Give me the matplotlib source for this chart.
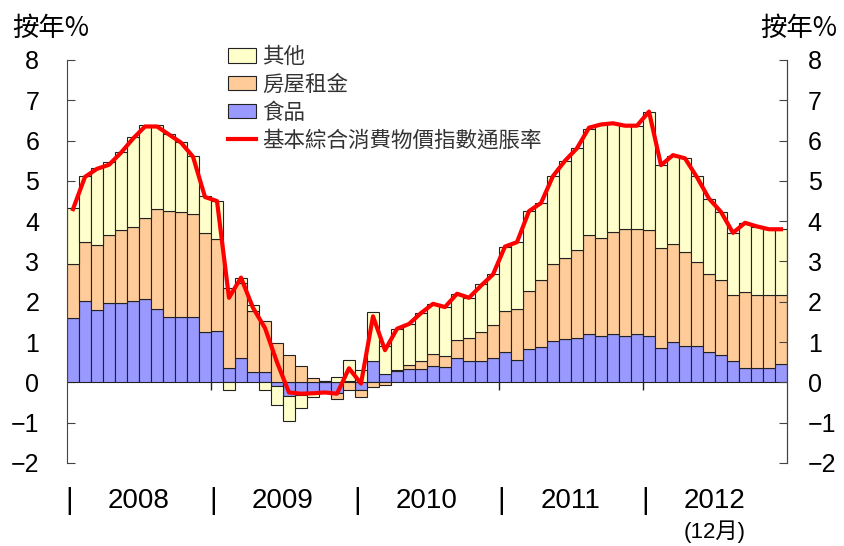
import numpy as np
import matplotlib
matplotlib.use('Agg')
import matplotlib.pyplot as plt
from matplotlib.patches import Patch
from matplotlib.lines import Line2D

plt.rcParams['font.family'] = ['Liberation Sans', 'Noto Sans CJK TC', 'DejaVu Sans']

# monthly, Jan 2008 - Dec 2012 (contributions, % pts)
food = [1.59, 2.01, 1.79, 1.97, 1.97, 2.01, 2.08, 1.82, 1.63, 1.63, 1.63, 1.26,
        1.27, 0.36, 0.60, 0.25, 0.25, -0.08, -0.33, -0.31, -0.27, -0.25, -0.27, 0.03,
        -0.18, 0.54, 0.22, 0.29, 0.34, 0.33, 0.40, 0.38, 0.60, 0.54, 0.54, 0.60,
        0.75, 0.56, 0.83, 0.88, 1.03, 1.07, 1.09, 1.19, 1.16, 1.19, 1.16, 1.19,
        1.15, 0.85, 1.00, 0.91, 0.91, 0.75, 0.69, 0.53, 0.35, 0.35, 0.35, 0.45]
rent = [1.35, 1.47, 1.61, 1.68, 1.80, 1.85, 2.00, 2.48, 2.63, 2.60, 2.56, 2.45,
        2.28, 1.99, 1.87, 1.52, 1.27, 0.98, 0.69, 0.41, 0.11, 0.04, -0.14, -0.18,
        -0.17, -0.12, -0.07, 0.03, 0.08, 0.21, 0.30, 0.28, 0.46, 0.55, 0.71, 0.83,
        1.01, 1.25, 1.45, 1.65, 1.91, 2.01, 2.19, 2.46, 2.43, 2.55, 2.64, 2.61,
        2.62, 2.48, 2.43, 2.33, 2.08, 1.93, 1.84, 1.63, 1.89, 1.81, 1.81, 1.73]
others = [1.39, 1.63, 1.92, 1.81, 1.95, 2.23, 2.30, 2.08, 1.90, 1.74, 1.42, 0.92,
          0.96, -0.18, 0.13, 0.14, -0.18, -0.49, -0.64, -0.33, -0.10, 0.0, 0.13, 0.52,
          0.30, 1.21, 0.68, 1.01, 1.03, 1.18, 1.25, 1.21, 1.14, 1.01, 1.18, 1.26,
          1.61, 1.67, 1.97, 1.92, 2.18, 2.42, 2.53, 2.65, 2.81, 2.69, 2.57, 2.57,
          2.94, 2.06, 2.19, 2.32, 2.12, 1.88, 1.70, 1.55, 1.72, 1.70, 1.64, 1.62]
underlying = [4.3, 5.1, 5.3, 5.4, 5.7, 6.05, 6.35, 6.35, 6.15, 5.95, 5.6, 4.6,
              4.5, 2.1, 2.6, 1.85, 1.35, 0.5, -0.25, -0.28, -0.27, -0.25, -0.28, 0.35,
              -0.03, 1.64, 0.8, 1.33, 1.45, 1.72, 1.95, 1.87, 2.2, 2.1, 2.4, 2.68,
              3.37, 3.48, 4.25, 4.45, 5.12, 5.5, 5.81, 6.32, 6.4, 6.43, 6.37, 6.37,
              6.72, 5.39, 5.64, 5.56, 5.09, 4.56, 4.23, 3.71, 3.96, 3.87, 3.8, 3.8]
years = ['2008', '2009', '2010', '2011', '2012']

series = [('食品', food, '#9999FF'),
          ('房屋租金', rent, '#FFCC99'),
          ('其他', others, '#FFFFCC')]

x = np.arange(len(food))

fig = plt.figure(figsize=(8.45, 5.46), dpi=100)
ax = fig.add_axes([67 / 845, 83 / 546, 720 / 845, 403 / 546])

pos_base = np.zeros(len(x))
neg_base = np.zeros(len(x))
for name, vals, col in series:
    v = np.array(vals)
    bottom = np.where(v >= 0, pos_base, neg_base)
    ax.bar(x, v, width=1.0, bottom=bottom, color=col, edgecolor='#222222',
           linewidth=0.8, zorder=2)
    pos_base += np.clip(v, 0, None)
    neg_base += np.clip(v, None, 0)

ax.plot(x, underlying, color='#FF0000', lw=3.0, zorder=3, solid_joinstyle='round')

# small ticks below zero at year boundaries
ax.vlines(np.arange(1, 5) * 12 - 0.5, -0.18, 0, color='#222222', lw=1, zorder=1)

ax.set_xlim(-0.5, len(x) - 0.5)
ax.set_ylim(-2, 8)
ax.set_yticks(range(-2, 9))
ax.set_xticks([])
for s in ['top', 'bottom']:
    ax.spines[s].set_visible(False)
ax.spines['left'].set_color('#444444')
ax.spines['right'].set_color('#444444')
ax.tick_params(axis='y', direction='in', length=6, color='#444444',
               labelsize=18, pad=20)

ax2 = ax.twinx()
ax2.set_ylim(-2, 8)
ax2.set_yticks(range(-2, 9))
for s in ['top', 'bottom', 'left']:
    ax2.spines[s].set_visible(False)
ax2.spines['right'].set_color('#444444')
ax2.tick_params(axis='y', direction='in', length=6, color='#444444',
                labelsize=18, pad=15)

# year labels with separators
for i, yr in enumerate(years):
    ax.text(i * 12 + 5.5, -2.95, yr, ha='center', va='center', fontsize=20)
    ax.text(i * 12 - 0.3, -2.95, '|', ha='center', va='center', fontsize=21)
ax.text(4 * 12 + 5.5, -3.7, '(12月)', ha='center', va='center', fontsize=16,
        family=['Liberation Sans', 'Noto Sans CJK TC'])

fig.text(12 / 845, 1 - 28 / 546, '按年%', ha='left', va='center', fontsize=19,
         family=['Noto Sans CJK TC', 'DejaVu Sans'])
fig.text(760 / 845, 1 - 28 / 546, '按年%', ha='left', va='center', fontsize=19,
         family=['Noto Sans CJK TC', 'DejaVu Sans'])

handles = [Patch(facecolor='#FFFFCC', edgecolor='#222222', lw=0.8),
           Patch(facecolor='#FFCC99', edgecolor='#222222', lw=0.8),
           Patch(facecolor='#9999FF', edgecolor='#222222', lw=0.8),
           Line2D([], [], color='#FF0000', lw=3.0)]
labels = ['其他', '房屋租金', '食品', '基本綜合消費物價指數通脹率']
leg = ax.legend(handles, labels, loc='upper left',
                bbox_to_anchor=(228 / 845, 1 - 46 / 546),
                bbox_transform=fig.transFigure, frameon=False,
                prop={'family': ['Noto Sans CJK TC'], 'size': 15.5},
                handlelength=1.3, handleheight=0.65, handletextpad=0.3,
                labelspacing=0.27, borderpad=0, borderaxespad=0)
for t in leg.get_texts():
    t.set_color('#333333')

fig.savefig('out.png', dpi=100)
